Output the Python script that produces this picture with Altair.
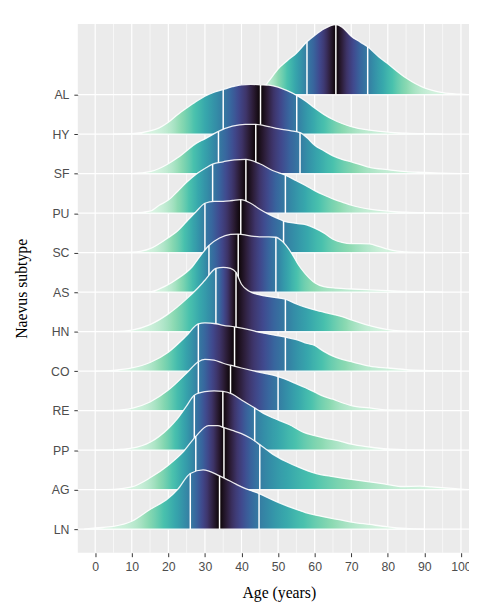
import altair as alt
import pandas as pd
import numpy as np

# rows from bottom (1) to top (12)
subtypes = ["LN", "AG", "PP", "RE", "CO", "HN", "AS", "SC", "PU", "SF", "HY", "AL"]

# density curves (height in row units)
ages = {
    "AL": [40, 45, 47.5, 50, 52.5, 55, 57.9, 60, 62.5, 65.8, 67.5, 70, 72.5, 74.5, 77.5, 80, 85, 90, 95, 100, 102],
    "HY": [5, 10, 15, 17.5, 20, 22.5, 25, 27.5, 30, 32.5, 35, 37.5, 40, 42.5, 45.2, 47.5, 50, 52.5, 55.1, 57.5, 60, 62.5, 65, 67.5, 70, 75, 80, 85, 90, 95],
    "SF": [10, 15, 17.5, 20, 22.5, 25, 27.5, 30, 33.7, 37.5, 41, 43.9, 47.5, 50, 52.5, 56, 58, 60, 62.5, 65, 67.5, 70, 75, 80, 85, 90, 95, 100],
    "PU": [10, 15, 17.5, 20, 22.5, 25, 27.5, 30, 32.1, 35, 38, 41.2, 45, 48.5, 52, 55, 57.5, 60, 62.5, 65, 67.5, 70, 75, 80, 85, 90, 95],
    "SC": [5, 10, 15, 20, 22.5, 25, 27.5, 30, 32.5, 35, 37.5, 39.8, 42.5, 45, 47.5, 50, 51.5, 55, 57.5, 60, 62.5, 65, 67.5, 70, 72.5, 75, 77.5, 80, 82.5, 85, 90, 95],
    "AS": [10, 15, 18, 22, 26.6, 29, 31.1, 34, 37, 39.1, 42, 45, 47.5, 49.4, 51, 53.8, 55.5, 57.4, 60, 62.5, 66, 70, 75, 80, 85, 90, 95],
    "HN": [5, 10, 15, 20, 25, 28, 30, 33, 35, 37, 38.5, 40, 42, 45, 48, 52, 55, 60, 65, 67.5, 70, 75, 80, 85, 90],
    "CO": [0, 5, 10, 15, 20, 25, 28.2, 30, 33, 35, 38.1, 42, 45, 48, 52, 55, 58, 60, 62.5, 65, 67.5, 70, 75, 80, 85, 90, 95, 100],
    "RE": [0, 5, 10, 15, 20, 25, 28.2, 30, 32.5, 35, 37, 40, 45, 50, 55, 57.5, 60, 62.5, 65, 67.5, 70, 75, 80, 85, 90],
    "PP": [0, 5, 10, 15, 20, 22.5, 25, 27.1, 30, 32.5, 34.9, 37.5, 40, 43.6, 46, 48.5, 53, 57, 60, 63, 66.4, 70, 75, 80, 85, 90],
    "AG": [0, 5, 10, 15, 20, 24, 27.5, 31, 33.5, 35.2, 37.5, 40, 42.5, 45, 48.5, 52, 55.6, 60, 65, 70, 75, 80, 84, 88.8, 92, 97.7, 102],
    "LN": [-3, 0, 5, 10, 15, 20, 22.5, 26, 29.5, 34, 38.5, 40, 44.8, 48.5, 50, 55, 57.5, 60, 65, 70, 75, 80, 85, 90],
}
heights = {
    "AL": [0, 0.08, 0.35, 0.65, 0.86, 1.05, 1.34, 1.5, 1.66, 1.77, 1.71, 1.48, 1.33, 1.21, 0.96, 0.78, 0.42, 0.17, 0.05, 0.01, 0],
    "HY": [0, 0.01, 0.08, 0.16, 0.3, 0.49, 0.66, 0.82, 0.96, 1.06, 1.13, 1.2, 1.25, 1.26, 1.25, 1.24, 1.19, 1.1, 0.98, 0.84, 0.66, 0.5, 0.37, 0.27, 0.19, 0.1, 0.05, 0.025, 0.01, 0],
    "SF": [0, 0.05, 0.13, 0.25, 0.4, 0.58, 0.76, 0.88, 1.07, 1.2, 1.25, 1.25, 1.19, 1.14, 1.1, 1.04, 0.9, 0.72, 0.58, 0.45, 0.36, 0.3, 0.16, 0.1, 0.05, 0.03, 0.01, 0],
    "PU": [0, 0.05, 0.2, 0.33, 0.55, 0.78, 0.98, 1.13, 1.24, 1.3, 1.35, 1.36, 1.25, 1.08, 0.96, 0.82, 0.7, 0.57, 0.46, 0.36, 0.28, 0.2, 0.1, 0.05, 0.025, 0.01, 0],
    "SC": [0, 0.01, 0.1, 0.38, 0.55, 0.79, 1.03, 1.25, 1.3, 1.3, 1.32, 1.34, 1.25, 1.1, 0.97, 0.86, 0.8, 0.74, 0.71, 0.62, 0.5, 0.34, 0.26, 0.23, 0.23, 0.22, 0.16, 0.09, 0.04, 0.02, 0.005, 0],
    "AS": [0, 0.01, 0.1, 0.31, 0.65, 0.95, 1.18, 1.37, 1.46, 1.47, 1.43, 1.4, 1.4, 1.39, 1.3, 0.97, 0.7, 0.47, 0.24, 0.14, 0.1, 0.08, 0.06, 0.04, 0.02, 0.01, 0],
    "HN": [0, 0.04, 0.18, 0.45, 0.83, 1.1, 1.3, 1.6, 1.63, 1.6, 1.5, 1.2, 1.03, 0.93, 0.88, 0.82, 0.7, 0.55, 0.44, 0.38, 0.3, 0.15, 0.05, 0.01, 0],
    "CO": [0, 0.02, 0.08, 0.22, 0.48, 0.9, 1.2, 1.22, 1.2, 1.16, 1.12, 1.05, 0.98, 0.93, 0.86, 0.8, 0.7, 0.65, 0.5, 0.38, 0.3, 0.24, 0.13, 0.08, 0.04, 0.02, 0.01, 0],
    "RE": [0, 0.01, 0.06, 0.22, 0.52, 0.95, 1.24, 1.3, 1.28, 1.2, 1.15, 1.08, 0.97, 0.86, 0.68, 0.58, 0.47, 0.36, 0.29, 0.2, 0.13, 0.07, 0.02, 0.01, 0],
    "PP": [0, 0.01, 0.05, 0.2, 0.55, 0.8, 1.12, 1.39, 1.48, 1.5, 1.49, 1.42, 1.27, 1.07, 0.93, 0.82, 0.65, 0.45, 0.37, 0.3, 0.24, 0.15, 0.08, 0.03, 0.01, 0],
    "AG": [0, 0.01, 0.07, 0.3, 0.62, 0.95, 1.35, 1.62, 1.62, 1.57, 1.5, 1.42, 1.3, 1.14, 0.9, 0.72, 0.57, 0.42, 0.33, 0.26, 0.2, 0.13, 0.08, 0.09, 0.07, 0.03, 0],
    "LN": [0, 0.03, 0.07, 0.2, 0.5, 0.78, 1.0, 1.41, 1.5, 1.35, 1.14, 1.07, 0.9, 0.74, 0.68, 0.5, 0.42, 0.36, 0.27, 0.18, 0.12, 0.06, 0.02, 0],
}
# quartile lines (25 %, 50 %, 75 %)
quartiles = {
    "AL": [57.9, 65.8, 74.5],
    "HY": [35, 45.2, 55.1],
    "SF": [33.7, 43.9, 56],
    "PU": [32.1, 41.2, 52],
    "SC": [30, 39.8, 51.5],
    "AS": [31.1, 39.1, 49.4],
    "HN": [33, 38.5, 52],
    "CO": [28.2, 38.1, 52],
    "RE": [28.2, 37, 50],
    "PP": [27.1, 34.9, 43.6],
    "AG": [27.5, 35.2, 45],
    "LN": [26, 34, 44.8],
}

x_ticks = list(range(0, 101, 10))
x_minor = list(range(5, 100, 10))

# mako palette anchors
MAKO = ["#0B0405", "#2B1C35", "#3E356B", "#40498E", "#38659E", "#357BA2",
        "#3491A8", "#37A7AC", "#49C1AD", "#8AD9B1", "#DEF5E5"]


def mako(t):
    t = min(max(t, 0.0), 1.0) * (len(MAKO) - 1)
    i = min(int(t), len(MAKO) - 2)
    f = t - i
    c0 = [int(MAKO[i][k:k + 2], 16) for k in (1, 3, 5)]
    c1 = [int(MAKO[i + 1][k:k + 2], 16) for k in (1, 3, 5)]
    c = [round(a + (b - a) * f) for a, b in zip(c0, c1)]
    return "#%02x%02x%02x" % tuple(c)


def gradient_for(a, h, q):
    a = np.array(a, float)
    h = np.array(h, float)
    fine = []
    for i in range(len(a) - 1):
        for k in range(4):
            fine.append(a[i] + (a[i + 1] - a[i]) * k / 4)
    fine.append(a[-1])
    fine = np.array(fine)
    hf = np.interp(fine, a, h)
    F = np.concatenate([[0.0], np.cumsum(np.diff(fine) * (hf[1:] + hf[:-1]) / 2)])
    Fq = np.interp(q, fine, F)
    e = np.interp(F, [0.0, Fq[0], Fq[1], Fq[2], F[-1]], [0, 0.25, 0.5, 0.75, 1.0])
    p = 0.5 - np.abs(0.5 - e)
    span = a[-1] - a[0]
    stops = [{"offset": float((x - a[0]) / span), "color": mako(1 - 2 * pp)}
             for x, pp in zip(fine, p)]
    return {"gradient": "linear", "x1": 0, "y1": 0, "x2": 1, "y2": 0, "stops": stops}


xs = alt.Scale(domain=[-4.76, 102.2], nice=False, zero=False)
ys = alt.Scale(domain=[0.403, 13.79], nice=False, zero=False)

label_expr = "[" + ",".join("'%s'" % s for s in subtypes) + "][datum.value - 1]"

xaxis = alt.Axis(values=x_ticks, grid=False, domain=False, tickColor="#333333",
                 tickSize=4, tickWidth=1, labelFont="Liberation Sans", labelFontSize=12.5,
                 labelColor="#4D4D4D", labelPadding=4, labelFlush=False,
                 title="Age (years)", titleFont="Liberation Serif", titleFontSize=16,
                 titleFontWeight="normal", titleColor="#000000", titleX=204.5, titleY=46,
                 titleAlign="center", titleBaseline="alphabetic")
yaxis = alt.Axis(values=list(range(1, 13)), labelExpr=label_expr, grid=False, domain=False,
                 tickColor="#333333", tickSize=4, tickWidth=1, labelFont="Liberation Sans",
                 labelFontSize=12.5, labelColor="#4D4D4D", labelPadding=5,
                 title="Naevus subtype", titleFont="Liberation Serif", titleFontSize=16,
                 titleFontWeight="normal", titleColor="#000000", titleX=-52, titleY=269,
                 titleAlign="center", titleBaseline="alphabetic")


def X(field):
    return alt.X(field, type="quantitative", scale=xs, axis=xaxis)


def Y(field):
    return alt.Y(field, type="quantitative", scale=ys, axis=yaxis)


layers = []
layers.append(alt.Chart(pd.DataFrame({"v": x_minor})).mark_rule(color="white", strokeWidth=0.6)
              .encode(x=X("v")))
layers.append(alt.Chart(pd.DataFrame({"v": x_ticks})).mark_rule(color="white", strokeWidth=1.2)
              .encode(x=X("v")))
layers.append(alt.Chart(pd.DataFrame({"idx": list(range(1, 13))})).mark_rule(color="white", strokeWidth=1.2)
              .encode(y=Y("idx")))

for idx in range(12, 0, -1):
    name = subtypes[idx - 1]
    a, h, q = ages[name], heights[name], quartiles[name]
    df = pd.DataFrame({"age": a, "top": [idx + v for v in h], "base": [idx] * len(a)})
    grad = gradient_for(a, h, q)
    layers.append(alt.Chart(df).mark_area(fill=grad, stroke="white", strokeWidth=1.3,
                                          strokeOpacity=0.9, interpolate="monotone", clip=True)
                  .encode(x=X("age"), y=Y("top"), y2="base"))
    qtop = [idx + h[a.index(v)] for v in q]
    dq = pd.DataFrame({"age": q, "top": qtop, "base": [idx] * 3})
    layers.append(alt.Chart(dq).mark_rule(color="white", strokeWidth=1.5, clip=True)
                  .encode(x=X("age"), y=Y("top"), y2="base"))

chart = alt.layer(*layers).properties(
    width=398, height=538,
    autosize=alt.AutoSizeParams(type="none"),
    padding={"left": 71, "top": 11, "right": 0, "bottom": 51},
).configure_view(fill="#EBEBEB", stroke=None)

chart.save("out.html", embed_options={"renderer": "svg", "actions": False})
